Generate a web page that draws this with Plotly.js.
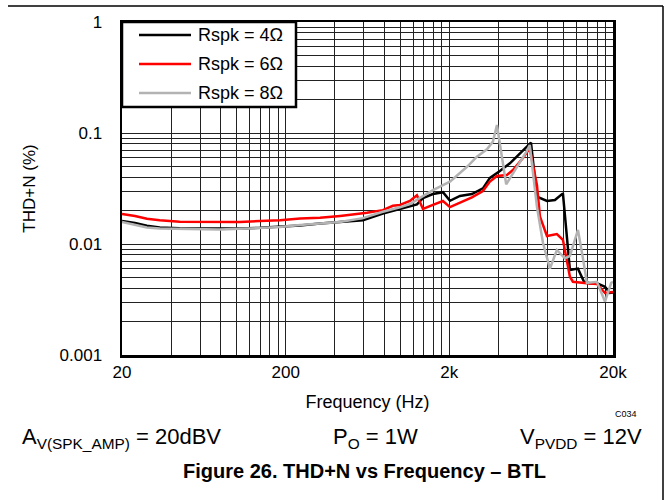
<!DOCTYPE html>
<html>
<head>
<meta charset="utf-8">
<script src="https://cdn.plot.ly/plotly-3.0.1.min.js"></script>
<style>
html,body{margin:0;padding:0;background:#fff;}
#chart{width:669px;height:500px;}
</style>
</head>
<body>
<div id="chart"></div>
<script>
// ---- Data (frequency in Hz, THD+N in %) ----
const freq4 = [20, 24, 28.4, 34, 45, 60, 79, 105, 139, 185, 245, 324, 430, 593, 785, 998, 1268, 1380, 1588, 1828, 2018, 2322, 2748, 3208, 3540, 4074, 4690, 6308, 6858, 7898, 8836, 9886, 10908, 12216, 13300, 14446, 15950, 17866, 19152, 20000];
const thd4  = [0.0161, 0.0155, 0.0146, 0.0141, 0.0139, 0.0138, 0.0137, 0.0138, 0.0140, 0.0143, 0.0147, 0.0153, 0.0158, 0.0164, 0.0188, 0.0207, 0.0227, 0.0259, 0.0282, 0.0293, 0.0245, 0.0271, 0.0282, 0.0317, 0.0394, 0.0455, 0.0533, 0.0818, 0.0267, 0.0244, 0.0249, 0.0286, 0.00583, 0.00600, 0.00457, 0.00444, 0.00444, 0.00412, 0.00362, 0.00365];

const freq6 = [20, 24, 28.4, 34, 45, 60, 79, 105, 139, 185, 245, 324, 430, 628, 785, 904, 998, 1148, 1268, 1380, 1588, 1828, 2018, 2322, 2748, 3208, 3540, 3908, 4498, 4894, 5636, 6200, 6858, 7160, 7898, 9080, 9886, 10908, 11378, 13852, 15950, 17866, 20000];
const thd6  = [0.0186, 0.0179, 0.0169, 0.0164, 0.0159, 0.0158, 0.0158, 0.0158, 0.0161, 0.0164, 0.0170, 0.0172, 0.0179, 0.0191, 0.0202, 0.0221, 0.0225, 0.0244, 0.0275, 0.0207, 0.0225, 0.0244, 0.0215, 0.0236, 0.0263, 0.0300, 0.0365, 0.0410, 0.0418, 0.0464, 0.0596, 0.0727, 0.0340, 0.0176, 0.0118, 0.0123, 0.0109, 0.00507, 0.00457, 0.00444, 0.00436, 0.00362, 0.00370];

const freq8 = [20, 24, 28.4, 34, 45, 60, 79, 105, 139, 185, 245, 324, 430, 593, 785, 998, 1148, 1325, 1588, 2018, 2565, 2950, 3396, 3692, 3908, 4450, 4894, 5960, 6200, 6858, 7470, 8236, 9080, 10164, 10908, 12216, 13092, 13852, 15950, 17866, 19500, 20000];
const thd8  = [0.0158, 0.0150, 0.0141, 0.0138, 0.0137, 0.0135, 0.0135, 0.0137, 0.0139, 0.0142, 0.0148, 0.0152, 0.0158, 0.0171, 0.0195, 0.0214, 0.0229, 0.0260, 0.0306, 0.0365, 0.0496, 0.0612, 0.0714, 0.0836, 0.118, 0.0345, 0.0430, 0.0690, 0.0780, 0.0217, 0.0102, 0.0060, 0.00883, 0.00743, 0.0078, 0.0134, 0.0075, 0.00446, 0.00457, 0.00303, 0.00446, 0.00457];

const seriesNames  = ["Rspk = 4\u03A9", "Rspk = 6\u03A9", "Rspk = 8\u03A9"];
const seriesColors = ["#000000", "#ff0000", "#b3b3b3"];

// ---- Axis grid values and labels ----
const xTickVals = [20,40,60,80,100,120,140,160,180,200,400,600,800,1000,1200,1400,1600,1800,2000,4000,6000,8000,10000,12000,14000,16000,18000,20000];
const xTickText = ["20","","","","","","","","","200","","","","","","","","","2k","","","","","","","","","20k"];
const yTickVals = [0.001,0.002,0.003,0.004,0.005,0.006,0.007,0.008,0.009,0.01,0.02,0.03,0.04,0.05,0.06,0.07,0.08,0.09,0.1,0.2,0.3,0.4,0.5,0.6,0.7,0.8,0.9,1];
const yTickText = ["0.001","","","","","","","","","0.01","","","","","","","","","0.1","","","","","","","","","1"];

const FONT = "Liberation Sans, Arial, sans-serif";

// plot-area geometry in pixels (layout only)
const W = 669, H = 500, L = 122, R = 613, T = 22, B = 355;
const pxX = p => (p - L) / (R - L);
const pxY = p => (B - p) / (B - T);

const traces = seriesNames.map((n, i) => ({
  x: [freq4, freq6, freq8][i],
  y: [thd4, thd6, thd8][i],
  name: n, mode: "lines", showlegend: false,
  line: {color: seriesColors[i], width: 2.5}
}));

const shapes = [
  // outer figure frame (top and right)
  {type: "line", xref: "paper", yref: "paper", x0: pxX(8), x1: pxX(663), y0: pxY(6), y1: pxY(6), line: {color: "#000", width: 1.5}},
  {type: "line", xref: "paper", yref: "paper", x0: pxX(663), x1: pxX(663), y0: pxY(6), y1: pxY(500), line: {color: "#000", width: 1.5}},
  // legend box
  {type: "rect", xref: "paper", yref: "paper", x0: pxX(122), x1: pxX(296), y0: pxY(22), y1: pxY(107),
   fillcolor: "#ffffff", line: {color: "#000", width: 2.5}, layer: "above"}
];
const legendRows = [35, 64, 93];
const annotations = [];
seriesNames.forEach((n, i) => {
  shapes.push({type: "line", xref: "paper", yref: "paper", x0: pxX(139), x1: pxX(191),
               y0: pxY(legendRows[i]), y1: pxY(legendRows[i]), line: {color: seriesColors[i], width: 2.5}, layer: "above"});
  annotations.push({xref: "paper", yref: "paper", x: pxX(196), y: pxY(legendRows[i]), text: n,
                    showarrow: false, xanchor: "left", yanchor: "middle", font: {family: FONT, size: 18, color: "#000"}});
});

annotations.push(
  {xref: "paper", yref: "paper", x: pxX(626), y: pxY(414), text: "C034", showarrow: false, xanchor: "center", yanchor: "middle", font: {family: FONT, size: 9}},
  {xref: "paper", yref: "paper", x: pxX(20), y: pxY(438), text: "A<sub>V(SPK_AMP)</sub> = 20dBV", showarrow: false, xanchor: "left", yanchor: "middle", font: {family: FONT, size: 22}},
  {xref: "paper", yref: "paper", x: pxX(375), y: pxY(438), text: "P<sub>O</sub> = 1W", showarrow: false, xanchor: "center", yanchor: "middle", font: {family: FONT, size: 22}},
  {xref: "paper", yref: "paper", x: pxX(644), y: pxY(438), text: "V<sub>PVDD</sub> = 12V", showarrow: false, xanchor: "right", yanchor: "middle", font: {family: FONT, size: 22}},
  {xref: "paper", yref: "paper", x: pxX(364), y: pxY(471), text: "<b>Figure 26. THD+N vs Frequency \u2013 BTL</b>", showarrow: false, xanchor: "center", yanchor: "middle", font: {family: FONT, size: 20}}
);

const layout = {
  width: W, height: H,
  margin: {l: L, r: W - R, t: T, b: H - B},
  paper_bgcolor: "#ffffff", plot_bgcolor: "#ffffff",
  font: {family: FONT, size: 17, color: "#000"},
  showlegend: false,
  xaxis: {type: "log", range: [Math.log10(20), Math.log10(20000)],
          tickmode: "array", tickvals: xTickVals, ticktext: xTickText,
          ticks: "", showgrid: true, gridcolor: "#222", gridwidth: 1,
          showline: true, mirror: true, linecolor: "#000", linewidth: 2.5,
          zeroline: false, ticklabelstandoff: 0,
          tickfont: {family: FONT, size: 17, color: "#000"},
          title: {text: "Frequency (Hz)", font: {family: FONT, size: 18, color: "#000"}, standoff: 15}},
  yaxis: {type: "log", range: [-3, 0],
          tickmode: "array", tickvals: yTickVals, ticktext: yTickText,
          ticks: "", showgrid: true, gridcolor: "#222", gridwidth: 1,
          showline: true, mirror: true, linecolor: "#000", linewidth: 2.5,
          zeroline: false, ticklabelstandoff: 14,
          tickfont: {family: FONT, size: 17, color: "#000"},
          title: {text: "THD+N (%)", font: {family: FONT, size: 17, color: "#000"}, standoff: 20}},
  shapes: shapes,
  annotations: annotations
};

Plotly.newPlot("chart", traces, layout, {staticPlot: true, displayModeBar: false});
</script>
</body>
</html>
